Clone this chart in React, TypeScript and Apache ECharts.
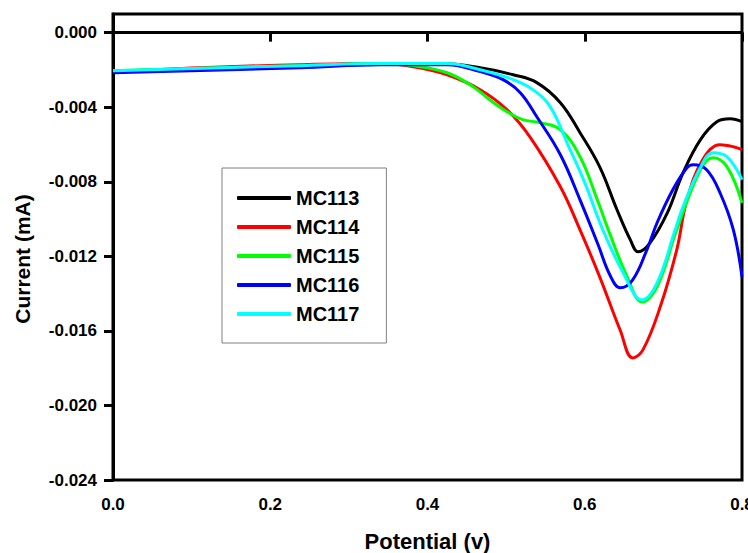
import React, { useEffect, useRef } from "react";
import * as echarts from "echarts";

const seriesNames = ["MC113", "MC114", "MC115", "MC116", "MC117"];
const seriesColors = ["#000000", "#ff0000", "#00ff00", "#0000ff", "#00ffff"];

const mc113: [number, number][] = [
  [0, -0.00209], [0.111, -0.00193], [0.238, -0.00177], [0.34, -0.00166], [0.416, -0.00166],
  [0.467, -0.00188], [0.509, -0.00226], [0.539, -0.00268], [0.569, -0.00376],
  [0.594, -0.00537], [0.619, -0.0072], [0.641, -0.0095], [0.658, -0.01112], [0.668, -0.01176],
  [0.683, -0.01128], [0.705, -0.00967], [0.725, -0.00752], [0.747, -0.00575], [0.768, -0.00478],
  [0.785, -0.00462], [0.8, -0.00478],
];
const mc114: [number, number][] = [
  [0, -0.0021], [0.111, -0.00188], [0.238, -0.00172], [0.34, -0.00166], [0.382, -0.00183],
  [0.425, -0.00226], [0.467, -0.00306], [0.501, -0.00413], [0.53, -0.00558],
  [0.569, -0.00827], [0.594, -0.01058], [0.619, -0.0131], [0.645, -0.01595], [0.661, -0.01745],
  [0.674, -0.01702], [0.696, -0.01471], [0.717, -0.01165], [0.73, -0.00897], [0.75, -0.00682],
  [0.772, -0.00601], [0.789, -0.00612], [0.8, -0.00628],
];
const mc115: [number, number][] = [
  [0, -0.00204], [0.238, -0.00177], [0.34, -0.00166], [0.382, -0.00177], [0.425, -0.00215],
  [0.458, -0.0029], [0.479, -0.0036], [0.501, -0.00424], [0.521, -0.00467], [0.543, -0.00483],
  [0.569, -0.00521], [0.594, -0.00666], [0.616, -0.00897], [0.63, -0.01058], [0.654, -0.0131],
  [0.673, -0.01445], [0.692, -0.01364], [0.717, -0.01058], [0.747, -0.00736], [0.763, -0.00671],
  [0.781, -0.0072], [0.8, -0.00913],
];
const mc116: [number, number][] = [
  [0, -0.00215], [0.238, -0.00188], [0.34, -0.00172], [0.425, -0.00172], [0.467, -0.00209],
  [0.496, -0.00252], [0.518, -0.00322], [0.539, -0.00451], [0.569, -0.00655],
  [0.594, -0.00897], [0.617, -0.01138], [0.632, -0.013], [0.645, -0.01369], [0.661, -0.01326],
  [0.679, -0.01165], [0.692, -0.0102], [0.712, -0.00843], [0.73, -0.00725], [0.738, -0.00709],
  [0.755, -0.00736], [0.772, -0.00859], [0.789, -0.01058], [0.8, -0.0131],
];
const mc117: [number, number][] = [
  [0, -0.00204], [0.238, -0.00177], [0.34, -0.00166], [0.425, -0.00166], [0.467, -0.00199],
  [0.509, -0.00252], [0.534, -0.00306], [0.556, -0.00397], [0.58, -0.00615], [0.6, -0.00805],
  [0.623, -0.01058], [0.649, -0.01289], [0.673, -0.01434], [0.692, -0.01343], [0.715, -0.01058],
  [0.725, -0.00934], [0.747, -0.00725], [0.763, -0.00644], [0.781, -0.00666], [0.8, -0.00789],
];
const seriesData = [mc113, mc114, mc115, mc116, mc117];

const yTickValues = [0, -0.004, -0.008, -0.012, -0.016, -0.02, -0.024];
const xTickValues = [0, 0.2, 0.4, 0.6, 0.8];

const FONT = "'Liberation Sans', Arial, sans-serif";

export default function App() {
  const ref = useRef<HTMLDivElement>(null);
  useEffect(() => {
    if (!ref.current) return;
    const chart = echarts.init(ref.current, null, { renderer: "svg" });
    chart.setOption({
      animation: false,
      backgroundColor: "#ffffff",
      textStyle: { fontFamily: FONT },
      grid: {
        left: 113,
        top: 14,
        right: 6,
        bottom: 73,
        outerBoundsMode: "none",
        containLabel: false,
        show: true,
        borderColor: "#000",
        borderWidth: 3,
        backgroundColor: "transparent",
      },
      legend: {
        orient: "vertical",
        left: 222,
        top: 168,
        padding: [20, 27, 19, 15],
        itemGap: 9,
        itemWidth: 54,
        itemHeight: 4,
        icon: "roundRect",
        borderColor: "#808080",
        borderWidth: 1,
        data: seriesNames,
        textStyle: { fontFamily: FONT, fontWeight: "bold", fontSize: 20, color: "#000", lineHeight: 20 },
      },
      xAxis: {
        type: "value",
        min: 0,
        max: 0.8,
        interval: 0.2,
        name: "Potential (v)",
        nameLocation: "middle",
        nameGap: 50,
        nameTextStyle: { fontFamily: FONT, fontWeight: "bold", fontSize: 22, color: "#000" },
        axisLine: { show: true, lineStyle: { color: "#000", width: 3 } },
        axisTick: { show: true, length: 9, lineStyle: { color: "#000", width: 3 }, customValues: xTickValues },
        axisLabel: {
          customValues: xTickValues,
          margin: 16,
          fontFamily: FONT,
          fontWeight: "bold",
          fontSize: 17,
          color: "#000",
          formatter: (v: number) => v.toFixed(1),
        },
        splitLine: { show: false },
      },
      yAxis: {
        type: "value",
        min: -0.024,
        max: 0.001,
        interval: 0.004,
        name: "Current (mA)",
        nameLocation: "middle",
        nameGap: 80,
        nameRotate: 90,
        nameTextStyle: {
          fontFamily: FONT,
          fontWeight: "bold",
          fontSize: 21,
          color: "#000",
          padding: [0, 24, 0, 0],
        },
        axisLine: { show: true, lineStyle: { color: "#000", width: 3 } },
        axisTick: { show: true, length: 9, lineStyle: { color: "#000", width: 3 }, customValues: yTickValues },
        axisLabel: {
          customValues: yTickValues,
          margin: 16,
          fontFamily: FONT,
          fontWeight: "bold",
          fontSize: 17,
          color: "#000",
          formatter: (v: number) => (Math.abs(v) < 1e-9 ? "0.000" : v.toFixed(3)),
        },
        splitLine: { show: false },
      },
      series: seriesNames.map((name, i) => ({
        name,
        type: "line",
        data: seriesData[i],
        smooth: 0.4,
        symbol: "none",
        color: seriesColors[i],
        itemStyle: { color: seriesColors[i] },
        lineStyle: { color: seriesColors[i], width: 3 },
        clip: true,
      })),
    });
    return () => chart.dispose();
  }, []);
  return (
    <div
      ref={ref}
      style={{ position: "fixed", left: 0, top: 0, width: 748, height: 553 }}
    />
  );
}
